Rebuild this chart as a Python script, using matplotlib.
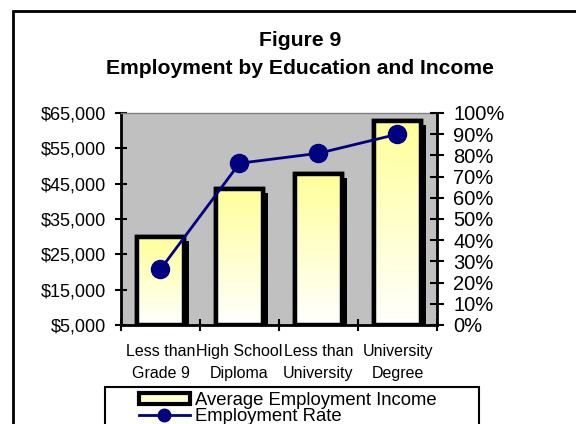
import numpy as np
import matplotlib
matplotlib.use('Agg')
import matplotlib.pyplot as plt
import matplotlib.patheffects as pe
from matplotlib.patches import Rectangle, Patch
from matplotlib.lines import Line2D
from matplotlib.colors import LinearSegmentedColormap
from matplotlib.ticker import FixedLocator, FuncFormatter

categories = ['Less than\nGrade 9', 'High School\nDiploma',
              'Less than\nUniversity', 'University\nDegree']
avg_income = [30000, 43600, 47800, 62800]
employment_rate = [26.3, 76.3, 81.0, 90.0]
income_ticks = [5000, 15000, 25000, 35000, 45000, 55000, 65000]
rate_ticks = [0, 10, 20, 30, 40, 50, 60, 70, 80, 90, 100]

plt.rcParams['font.family'] = ['Liberation Sans', 'DejaVu Sans']

W, H = 576, 424
fig = plt.figure(figsize=(W / 100, H / 100), dpi=100)

# plot area in pixel terms, converted to figure fractions
ax = fig.add_axes([121 / W, 1 - 325 / H, 316 / W, 212 / H])
ax.set_facecolor('#C0C0C0')

x = np.arange(len(categories))
base = income_ticks[0]
heights = [v - base for v in avg_income]

shadow = [pe.SimplePatchShadow(offset=(3.5, -3), shadow_rgbFace='black', alpha=1),
          pe.Normal()]
bars = ax.bar(x, heights, width=0.6, bottom=base, color='white',
              edgecolor='black', linewidth=3.2, zorder=2, path_effects=shadow)

# yellow-to-white fill inside each bar
fill_cmap = LinearSegmentedColormap.from_list('barfill', ['white', '#FFFF99'])
grad = np.linspace(0, 1, 256).reshape(-1, 1)
for b in bars:
    x0, y0 = b.get_x(), b.get_y()
    ax.imshow(grad, extent=[x0, x0 + b.get_width(), y0, y0 + b.get_height()],
              origin='lower', aspect='auto', cmap=fill_cmap, zorder=2.5,
              clip_path=b, interpolation='bilinear')
ax.bar(x, heights, width=0.6, bottom=base, fill=False,
       edgecolor='black', linewidth=3.2, zorder=3)

ax.set_xlim(-0.5, len(categories) - 0.5)
ax.set_ylim(income_ticks[0], income_ticks[-1])
ax.set_yticks(income_ticks)
ax.yaxis.set_major_formatter(FuncFormatter(lambda v, p: '${:,.0f}'.format(v)))
ax.set_xticks(x)
ax.set_xticklabels(categories, fontsize=11.5, linespacing=1.55)
ax.xaxis.set_minor_locator(FixedLocator(np.arange(-0.5, len(categories), 1.0)))
ax.tick_params(axis='x', which='major', length=0, pad=14)
ax.tick_params(axis='x', which='minor', direction='inout', length=8.5, width=1.5)
ax.tick_params(axis='y', direction='inout', length=8, width=1.5,
               labelsize=13, pad=6.5)

for side in ['left', 'bottom']:
    ax.spines[side].set_linewidth(2)
ax.spines['top'].set_color('#808080')
ax.spines['top'].set_linewidth(1)
ax.spines['right'].set_visible(False)

ax2 = ax.twinx()
ax2.plot(x, employment_rate, color='#000080', linewidth=2, marker='o',
         markersize=13, zorder=4)
ax2.set_ylim(rate_ticks[0], rate_ticks[-1])
ax2.set_yticks(rate_ticks)
ax2.yaxis.set_major_formatter(FuncFormatter(lambda v, p: '{:.0f}%'.format(v)))
ax2.tick_params(axis='y', direction='inout', length=9.5, width=1.5,
                labelsize=14.5, pad=7)
for side in ['left', 'top', 'bottom']:
    ax2.spines[side].set_visible(False)
ax2.spines['right'].set_linewidth(2)

fig.text(300 / W, 1 - 40 / H, 'Figure 9', ha='center', va='center',
         fontsize=15.2, fontweight='bold')
fig.text(300 / W, 1 - 68 / H, 'Employment by Education and Income',
         ha='center', va='center', fontsize=15.2, fontweight='bold')

# outer chart border and legend border (both run off the bottom/right)
fig.add_artist(Rectangle((13 / W, -0.5), 2, 1.5 - 11 / H, fill=False,
                         edgecolor='black', linewidth=2, transform=fig.transFigure))
fig.add_artist(Rectangle((105 / W, -0.5), (479 - 105) / W, 1.5 - 387 / H,
                         fill=False, edgecolor='black', linewidth=1.5,
                         transform=fig.transFigure))

handles = [Patch(facecolor='#FFFFCC', edgecolor='black', linewidth=3),
           Line2D([0], [0], color='#000080', linewidth=2, marker='o', markersize=9)]
fig.legend(handles, ['Average Employment Income', 'Employment Rate'],
           loc='upper left', bbox_to_anchor=(139 / W, 1 - 392 / H),
           borderaxespad=0, borderpad=0, frameon=False, fontsize=13.3,
           handlelength=2.75, handleheight=0.55, handletextpad=0.27,
           labelspacing=-0.05)

fig.savefig('out.png', dpi=100)
